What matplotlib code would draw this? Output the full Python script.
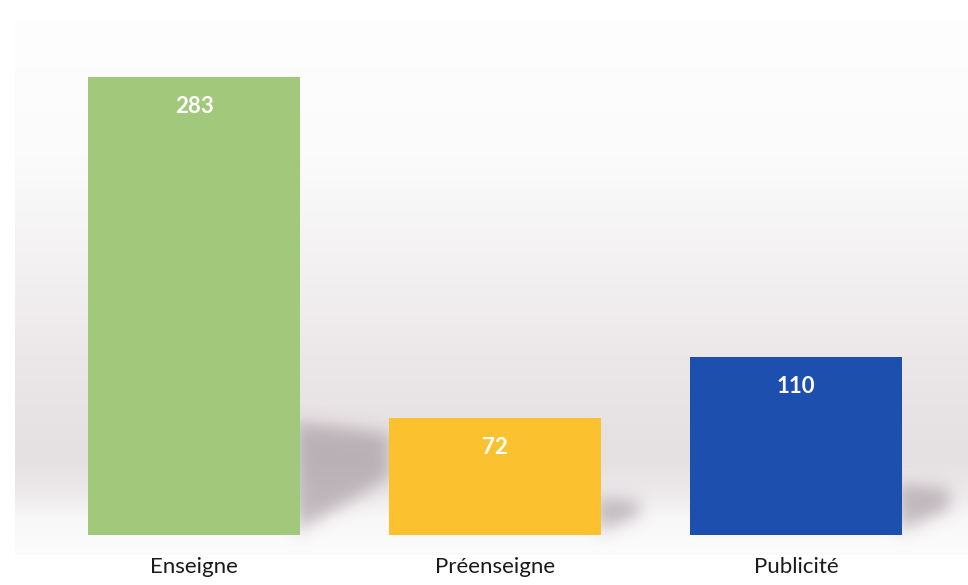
import numpy as np
import matplotlib.pyplot as plt
from matplotlib.path import Path

categories = ['Enseigne', 'Préenseigne', 'Publicité']
values = [283, 72, 110]
colors = ['#a2c97b', '#fcc12f', '#1d4fae']

plt.rcParams['font.family'] = ['Lato', 'DejaVu Sans']

W, H = 968, 585
fig = plt.figure(figsize=(W / 100, H / 100), dpi=100)
fig.patch.set_facecolor('white')

# background layer in pixel coordinates
bg = fig.add_axes([0, 0, 1, 1])
bg.set_xlim(0, W)
bg.set_ylim(H, 0)
bg.axis('off')

rows = np.arange(H)
stop_y = [0, 150, 300, 420, 480, 520, 545, 585]
stop_c = np.array([
    [254, 254, 254],
    [251, 251, 251],
    [241, 238, 240],
    [232, 227, 229],
    [229, 224, 226],
    [238, 235, 237],
    [249, 248, 249],
    [252, 252, 252],
]) / 255
grad = np.stack([np.interp(rows, stop_y, stop_c[:, k]) for k in range(3)], axis=-1)
grad = np.repeat(grad[:, None, :], 2, axis=1)
bg.imshow(grad, extent=[15, W, 555, 20], aspect='auto', zorder=0)

# bars
ax = fig.add_axes([0, 50 / H, 1, 535 / H])
ax.set_xlim(-0.645, 2.571)
ax.set_ylim(0, 330.6)
ax.patch.set_alpha(0)
for s in ax.spines.values():
    s.set_visible(False)
ax.set_yticks([])

x = np.arange(len(categories))
width = 0.704
ax.bar(x, values, width=width, color=colors, zorder=3)

ax.set_xticks(x)
ax.set_xticklabels(categories, fontsize=16, color='#1a1a1a')
ax.tick_params(axis='x', length=0, pad=16)

for xi, v in zip(x, values):
    ax.annotate(str(v), (xi, v), xytext=(0, -21), textcoords='offset points',
                ha='center', va='center', color='white', fontweight='bold',
                fontsize=16)

# soft shadows cast to the right of each bar
gx, gy = np.meshgrid(np.arange(W) + 0.5, np.arange(H) + 0.5)
pts = np.column_stack([gx.ravel(), gy.ravel()])
mask = np.zeros(H * W)
for xi, v in zip(x, values):
    xr, yb = ax.transData.transform((xi + width / 2, 0))
    _, yt = ax.transData.transform((xi, v))
    yb = H - yb
    bh = yb - (H - yt)
    top = yb - (0.22 * bh + 12)
    sw = 0.15 * bh + 20
    poly = Path([(xr - 4, top), (xr + sw, top + 0.1 * (yb - top)),
                 (xr + sw, top + 0.5 * (yb - top)), (xr - 4, yb - 3)])
    mask = np.maximum(mask, poly.contains_points(pts).astype(float))
mask = mask.reshape(H, W)

sig = 8
k = np.exp(-0.5 * (np.arange(-3 * sig, 3 * sig + 1) / sig) ** 2)
k /= k.sum()
mask = np.apply_along_axis(lambda r: np.convolve(r, k, mode='same'), 1, mask)
mask = np.apply_along_axis(lambda c: np.convolve(c, k, mode='same'), 0, mask)

shadow = np.zeros((H, W, 4))
shadow[..., 0] = 150 / 255
shadow[..., 1] = 138 / 255
shadow[..., 2] = 144 / 255
shadow[..., 3] = mask * 0.55
bg.imshow(shadow, extent=[0, W, H, 0], aspect='auto', zorder=1)

fig.savefig('out.png', dpi=100)
